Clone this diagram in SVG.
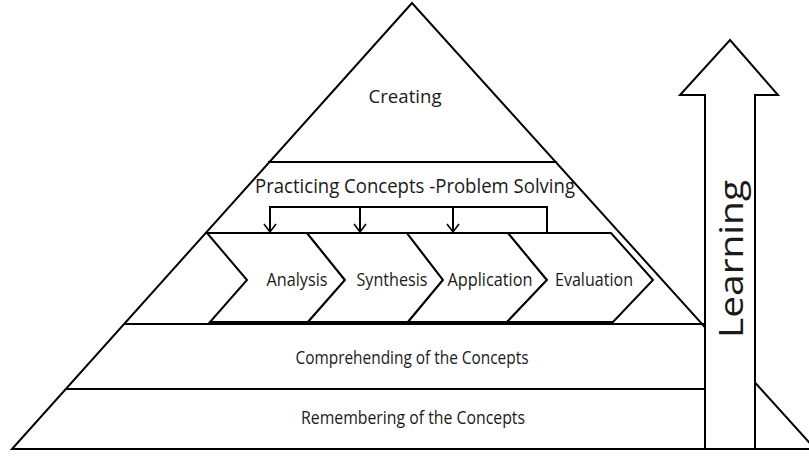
<svg xmlns="http://www.w3.org/2000/svg" width="809" height="456" viewBox="0 0 809 456">
<style>
.ln{fill:none;stroke:#000;stroke-width:2}
.sh{fill:#fff;stroke:#000;stroke-width:2;stroke-linejoin:miter}
.t{font-family:"Open Sans","Noto Sans","Liberation Sans",sans-serif;fill:#1a1a1a}
</style>
<defs>
<marker id="ah" markerWidth="12" markerHeight="14" refX="10" refY="7" orient="auto" markerUnits="userSpaceOnUse" viewBox="0 0 12 14">
<polyline points="2,1 10,7 2,13" fill="none" stroke="#000" stroke-width="1.6"/>
</marker>
</defs>
<rect width="809" height="456" fill="#fff"/>
<g id="pyramid">
<polygon class="sh" points="412,3 12,449 815,449"/>
<line class="ln" x1="268" y1="162" x2="557" y2="162"/>
<line class="ln" x1="124" y1="324" x2="704" y2="324"/>
<line class="ln" x1="65" y1="389" x2="705" y2="389"/>
</g>
<g id="creating"><text class="t" x="405" y="103" font-size="19" text-anchor="middle" textLength="73" lengthAdjust="spacingAndGlyphs">Creating</text></g>
<g id="practicing"><text class="t" x="415" y="193" font-size="20" text-anchor="middle" textLength="320" lengthAdjust="spacingAndGlyphs">Practicing Concepts -Problem Solving</text></g>
<g id="analysis">
<polygon class="sh" points="207,233 307,233 345,280 308,322 210,322 247,280"/>
<text class="t" x="297" y="286" font-size="19" text-anchor="middle" textLength="61" lengthAdjust="spacingAndGlyphs">Analysis</text>
</g>
<g id="synthesis">
<polygon class="sh" points="307,233 407,233 443,280 408,322 308,322 345,280"/>
<text class="t" x="392" y="286" font-size="19" text-anchor="middle" textLength="71" lengthAdjust="spacingAndGlyphs">Synthesis</text>
</g>
<g id="application">
<polygon class="sh" points="407,233 508,233 547,280 507,322 408,322 443,280"/>
<text class="t" x="490" y="286" font-size="19" text-anchor="middle" textLength="85" lengthAdjust="spacingAndGlyphs">Application</text>
</g>
<g id="evaluation">
<polygon class="sh" points="508,233 611,233 653,280 613,322 507,322 547,280"/>
<text class="t" x="594" y="286" font-size="19" text-anchor="middle" textLength="78" lengthAdjust="spacingAndGlyphs">Evaluation</text>
</g>
<g id="comprehending"><text class="t" x="412" y="364" font-size="19" text-anchor="middle" textLength="233" lengthAdjust="spacingAndGlyphs">Comprehending of the Concepts</text></g>
<g id="remembering"><text class="t" x="413" y="424" font-size="19" text-anchor="middle" textLength="224" lengthAdjust="spacingAndGlyphs">Remembering of the Concepts</text></g>
<g id="learning">
<polygon class="sh" points="730,40 778,95 755,95 755,449 705,449 705,95 680,95"/>
<text class="t" transform="translate(743,259) rotate(-90)" x="0" y="0" font-size="33" text-anchor="middle" textLength="158" lengthAdjust="spacingAndGlyphs">Learning</text>
</g>
<g id="connectors">
<polyline class="ln" points="270,232 270,207 547,207 547,233"/>
<line class="ln" x1="270" y1="207" x2="270" y2="232" marker-end="url(#ah)"/>
<line class="ln" x1="360" y1="207" x2="360" y2="232" stroke-width="2.4" marker-end="url(#ah)"/>
<line class="ln" x1="453" y1="207" x2="453" y2="232" stroke-width="2.4" marker-end="url(#ah)"/>
</g>
</svg>
